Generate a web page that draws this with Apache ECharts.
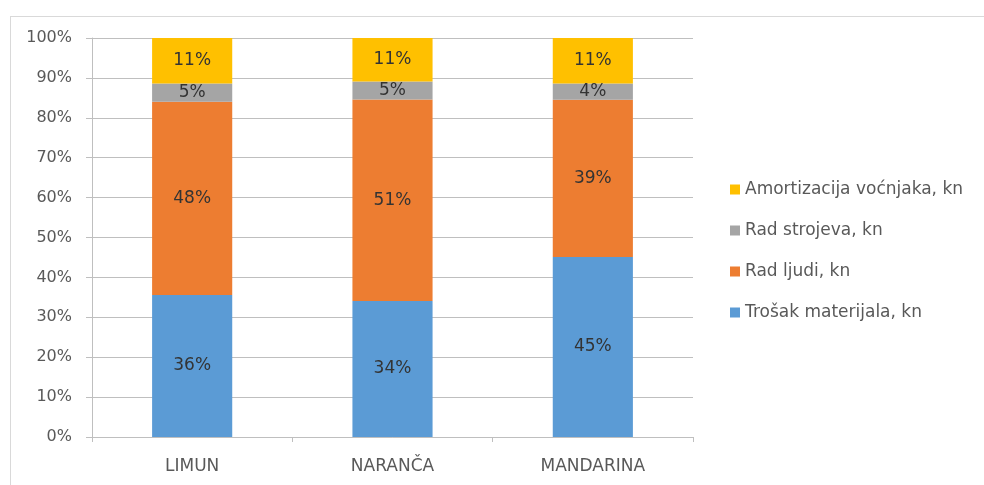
<!DOCTYPE html>
<html><head><meta charset="utf-8">
<script src="https://cdn.jsdelivr.net/npm/echarts@6/dist/echarts.min.js"></script>
<style>
html,body{margin:0;padding:0;background:#fff;}
#frame{position:absolute;left:10px;top:16px;width:974px;height:469px;border-top:1px solid #d9d9d9;border-left:1px solid #d9d9d9;}
#c{position:absolute;left:0;top:0;width:984px;height:485px;}
</style></head>
<body>
<div id="frame"></div>
<div id="c"></div>
<script>
const categories = ['LIMUN', 'NARANČA', 'MANDARINA'];
const trosakMaterijala = [35.6, 34.1, 45.1];
const radLjudi = [48.4, 50.5, 39.4];
const radStrojeva = [4.6, 4.5, 4.1];
const amortizacija = [11.4, 10.9, 11.4];
const yTicks = [0, 10, 20, 30, 40, 50, 60, 70, 80, 90, 100];

const FONT = 'DejaVu Sans';
const chart = echarts.init(document.getElementById('c'), null, {renderer: 'canvas'});
const lbl = {show: true, position: 'inside', color: '#333333', fontFamily: FONT, fontSize: 17,
  formatter: p => Math.round(p.value) + '%'};
function s(name, data, color) {
  return {name, type: 'bar', stack: 'total', data, barWidth: '40%',
    itemStyle: {color}, label: lbl, emphasis: {disabled: true}};
}
chart.setOption({
  animation: false,
  grid: {left: 92, right: 291, top: 38, bottom: 48, containLabel: false},
  legend: {
    orient: 'vertical', left: 725, top: 176, itemWidth: 10, itemHeight: 10, itemGap: 24,
    icon: 'rect',
    textStyle: {fontFamily: FONT, fontSize: 17, color: '#595959'},
    data: ['Amortizacija voćnjaka, kn', 'Rad strojeva, kn', 'Rad ljudi, kn', 'Trošak materijala, kn']
  },
  xAxis: {
    type: 'category', data: categories,
    axisLine: {lineStyle: {color: '#bfbfbf'}},
    axisTick: {show: true, alignWithLabel: false, length: 5, lineStyle: {color: '#bfbfbf'}},
    axisLabel: {fontFamily: FONT, fontSize: 17, color: '#595959', margin: 21}
  },
  yAxis: {
    type: 'value', min: yTicks[0], max: yTicks[yTicks.length - 1], interval: 10,
    axisLine: {show: true, lineStyle: {color: '#bfbfbf'}},
    axisTick: {show: true, length: 6, lineStyle: {color: '#bfbfbf'}},
    splitLine: {lineStyle: {color: '#bfbfbf'}},
    axisLabel: {fontFamily: FONT, fontSize: 16, color: '#595959', margin: 20, formatter: v => v + '%'}
  },
  series: [
    s('Trošak materijala, kn', trosakMaterijala, '#5B9BD5'),
    s('Rad ljudi, kn', radLjudi, '#ED7D31'),
    s('Rad strojeva, kn', radStrojeva, '#A5A5A5'),
    s('Amortizacija voćnjaka, kn', amortizacija, '#FFC000')
  ]
});
</script>
</body></html>
